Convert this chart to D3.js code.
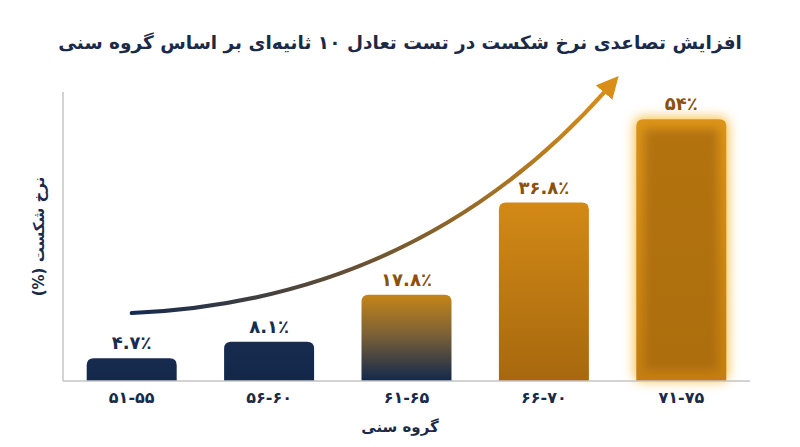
<!DOCTYPE html>
<html lang="fa">
<head>
<meta charset="UTF-8" />
<title>نرخ شکست</title>
<script src="https://d3js.org/d3.v7.min.js"></script>
<style>
  body { margin: 0; background: #fff; }
  svg text { font-family: 'DejaVu Sans', sans-serif; }
</style>
</head>
<body>
<svg id="chart" width="800" height="447"></svg>
<script>
const title = 'افزایش تصاعدی نرخ شکست در تست تعادل ۱۰ ثانیه‌ای بر اساس گروه سنی';
const xTitle = 'گروه سنی';
const yTitle = 'نرخ شکست (%)';
const ageGroups = ['۵۱-۵۵', '۵۶-۶۰', '۶۱-۶۵', '۶۶-۷۰', '۷۱-۷۵'];
const failRates = [4.7, 8.1, 17.8, 36.8, 54];
const rateLabels = ['۴.۷٪', '۸.۱٪', '۱۷.۸٪', '۳۶.۸٪', '۵۴٪'];
// trend arrow in data units: [band index offset, value]
const arrowStart = [0, 14];
const arrowCtrl = [2.1, 16.6];
const arrowEnd = [3.47, 60.5];

const svg = d3.select('#chart');
const margin = { top: 92, right: 50, bottom: 66, left: 63 };
const W = 800, H = 447;

const x = d3.scaleBand().domain(ageGroups)
  .range([margin.left, W - margin.right])
  .paddingInner(0.345).paddingOuter(0.1725);
const y = d3.scaleLinear().domain([0, 59.6]).range([H - margin.bottom, margin.top]);
const bw = x.bandwidth();
const step = x.step();
const cx = i => x(ageGroups[0]) + bw / 2 + i * step;

const defs = svg.append('defs');
const grad = (id, stops) => {
  const g = defs.append('linearGradient').attr('id', id)
    .attr('x1', 0).attr('y1', 0).attr('x2', 0).attr('y2', 1);
  stops.forEach(s => g.append('stop').attr('offset', s[0]).attr('stop-color', s[1]));
};
grad('gNavy', [[0, '#172c50'], [1, '#132749']]);
grad('gMix', [[0, '#c58516'], [0.45, '#7d6236'], [1, '#12284c']]);
grad('gOrange', [[0, '#d28916'], [1, '#a7680e']]);
grad('gTop', [[0, '#dc9519'], [1, '#c57f12']]);

const glow = defs.append('filter').attr('id', 'glow')
  .attr('x', '-30%').attr('y', '-30%').attr('width', '160%').attr('height', '160%');
glow.append('feGaussianBlur').attr('stdDeviation', 6);
const soft = defs.append('filter').attr('id', 'soft')
  .attr('x', '-20%').attr('y', '-20%').attr('width', '140%').attr('height', '140%');
soft.append('feGaussianBlur').attr('stdDeviation', 5);

const fills = ['url(#gNavy)', 'url(#gNavy)', 'url(#gMix)', 'url(#gOrange)', 'url(#gTop)'];
const labelColors = ['#172c50', '#172c50', '#8a520c', '#8a520c', '#8a520c'];

const barPath = (x0, y0, w, h, r) =>
  `M${x0},${y0 + h}V${y0 + r}Q${x0},${y0} ${x0 + r},${y0}H${x0 + w - r}Q${x0 + w},${y0} ${x0 + w},${y0 + r}V${y0 + h}Z`;

// title
svg.append('text').attr('x', W / 2).attr('y', 49)
  .attr('text-anchor', 'middle').attr('direction', 'rtl')
  .attr('font-size', 18.5).attr('font-weight', 'bold').attr('fill', '#1a2a48')
  .text(title);

// axes
const axisColor = '#c4c4c4';
svg.append('line').attr('x1', margin.left).attr('x2', margin.left)
  .attr('y1', margin.top).attr('y2', y(0))
  .attr('stroke', axisColor).attr('stroke-width', 1.5);

const bars = svg.append('g');
failRates.forEach((v, i) => {
  const x0 = x(ageGroups[i]);
  const y0 = y(v);
  const h = y(0) - y0;
  if (i === 4) {
    bars.append('rect').attr('x', x0 - 2).attr('y', y0 - 2)
      .attr('width', bw + 4).attr('height', h + 2).attr('rx', 8)
      .attr('fill', '#f7b52a').attr('opacity', 0.85).attr('filter', 'url(#glow)');
  }
  bars.append('path').attr('d', barPath(x0, y0, bw, h, 7)).attr('fill', fills[i]);
  if (i === 4) {
    const cp = defs.append('clipPath').attr('id', 'clipTop');
    cp.append('path').attr('d', barPath(x0, y0, bw, h, 7));
    bars.append('rect').attr('x', x0 + 8).attr('y', y0 + 10)
      .attr('width', bw - 16).attr('height', h - 20)
      .attr('fill', '#a5670f').attr('opacity', 0.75)
      .attr('filter', 'url(#soft)').attr('clip-path', 'url(#clipTop)');
  }
  svg.append('text').attr('x', x0 + bw / 2).attr('y', y0 - 9)
    .attr('text-anchor', 'middle').attr('font-size', 18).attr('font-weight', 'bold')
    .attr('fill', labelColors[i]).text(rateLabels[i]);
});

svg.append('line').attr('x1', margin.left).attr('x2', W - margin.right)
  .attr('y1', y(0)).attr('y2', y(0))
  .attr('stroke', axisColor).attr('stroke-width', 1.5);

// x tick labels
const xAxis = svg.append('g').attr('transform', `translate(0,${y(0)})`)
  .call(d3.axisBottom(x).tickSize(0).tickPadding(11));
xAxis.select('.domain').remove();
xAxis.selectAll('text').attr('font-size', 16).attr('font-weight', 'bold')
  .attr('fill', '#1a2a48').style('font-family', "'DejaVu Sans', sans-serif");

svg.append('text').attr('x', W / 2).attr('y', 432)
  .attr('text-anchor', 'middle').attr('direction', 'rtl')
  .attr('font-size', 15).attr('font-weight', 'bold').attr('fill', '#1a2a48')
  .text(xTitle);

svg.append('text')
  .attr('transform', `translate(44,${(margin.top + y(0)) / 2}) rotate(-90)`)
  .attr('text-anchor', 'middle').attr('direction', 'rtl')
  .attr('font-size', 15).attr('font-weight', 'bold').attr('fill', '#1a2a48')
  .text(yTitle);

// trend arrow
const p0 = [cx(arrowStart[0]), y(arrowStart[1])];
const p1 = [cx(arrowCtrl[0]), y(arrowCtrl[1])];
const p2 = [cx(arrowEnd[0]), y(arrowEnd[1])];
const ag = defs.append('linearGradient').attr('id', 'gArrow')
  .attr('gradientUnits', 'userSpaceOnUse')
  .attr('x1', p0[0]).attr('y1', p0[1]).attr('x2', p2[0]).attr('y2', p2[1]);
ag.append('stop').attr('offset', 0).attr('stop-color', '#142a50');
ag.append('stop').attr('offset', 0.45).attr('stop-color', '#6b5332');
ag.append('stop').attr('offset', 1).attr('stop-color', '#d98e17');

defs.append('marker').attr('id', 'head')
  .attr('viewBox', '0 0 10 10').attr('refX', 3).attr('refY', 5)
  .attr('markerWidth', 5.5).attr('markerHeight', 5.5)
  .attr('markerUnits', 'strokeWidth').attr('orient', 'auto')
  .append('path').attr('d', 'M0,0L10,5L0,10Z').attr('fill', '#d98e17');

const path = d3.path();
path.moveTo(p0[0], p0[1]);
path.quadraticCurveTo(p1[0], p1[1], p2[0], p2[1]);
svg.append('path').attr('d', path.toString())
  .attr('fill', 'none').attr('stroke', 'url(#gArrow)')
  .attr('stroke-width', 4).attr('stroke-linecap', 'round')
  .attr('marker-end', 'url(#head)');
</script>
</body>
</html>
